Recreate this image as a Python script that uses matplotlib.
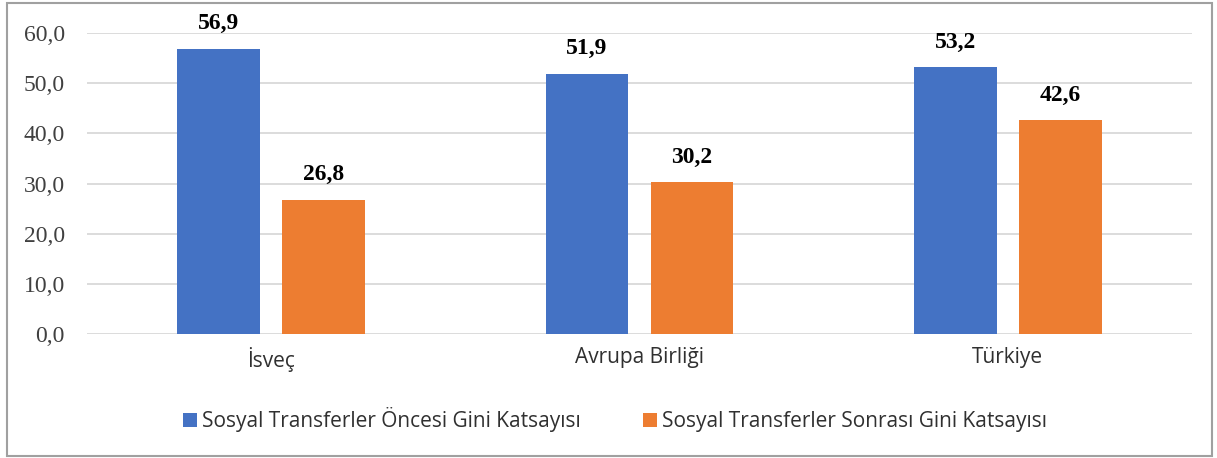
import matplotlib
matplotlib.use("Agg")
import matplotlib.pyplot as plt
import numpy as np
from matplotlib.patches import Rectangle

categories = ["İsveç", "Avrupa Birliği", "Türkiye"]
series_names = ["Sosyal Transferler Öncesi Gini Katsayısı",
                "Sosyal Transferler Sonrası Gini Katsayısı"]
before = [56.9, 51.9, 53.2]
after = [26.8, 30.2, 42.6]
yticks = [0, 10, 20, 30, 40, 50, 60]
colors = ["#4472C4", "#ED7D31"]

fig = plt.figure(figsize=(12.17, 4.58), dpi=100)
ax = fig.add_axes([87/1217, 1-334/458, (1192-87)/1217, (334-33)/458])

x = np.arange(len(categories))
w = 0.225
off = 0.1425
b1 = ax.bar(x - off, before, w, color=colors[0], label=series_names[0], zorder=3)
b2 = ax.bar(x + off, after, w, color=colors[1], label=series_names[1], zorder=3)

for bars, vals in ((b1, before), (b2, after)):
    for r, v in zip(bars, vals):
        ax.text(r.get_x() + r.get_width()/2, v + 2.9, f"{v:.1f}".replace(".", ","),
                ha="center", va="bottom", fontsize=17, fontweight="bold",
                family="Liberation Serif", clip_on=False)

ax.set_xlim(-0.5, 2.5)
ax.set_ylim(0, 60)
ax.set_yticks(yticks)
ax.set_yticklabels([f"{t:.1f}".replace(".", ",") for t in yticks],
                   family="Liberation Serif", fontsize=17, color="#404040")
ax.set_xticks(x)
ax.set_xticklabels(categories, family="Open Sans", fontsize=15, color="#303030")
ax.tick_params(axis="both", length=0)
ax.tick_params(axis="y", pad=16)
ax.tick_params(axis="x", pad=9)
ax.grid(axis="y", color="#d9d9d9", linewidth=1.3, zorder=0)
for s in ax.spines.values():
    s.set_visible(False)

leg = fig.legend(handles=[b1, b2], loc="center", bbox_to_anchor=(615/1217, 1-420/458),
                 ncol=2, frameon=False, prop={"family": "Open Sans", "size": 15},
                 handlelength=0.65, handleheight=0.65, handletextpad=0.25, columnspacing=3.0)
for t in leg.get_texts():
    t.set_color("#303030")

fig.patches.append(Rectangle((7/1217, 2/458), 1205/1217, 453/458, transform=fig.transFigure,
                             fill=False, edgecolor="#a0a0a0", linewidth=1.5))

fig.savefig("out.png", dpi=100)
